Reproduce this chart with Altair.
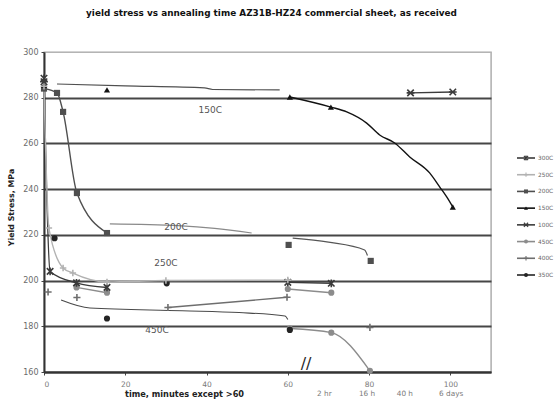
import altair as alt
import pandas as pd

# Series, in legend order, with their grey-scale styling
SERIES = ["300C", "250C", "200C", "150C", "100C", "450C", "400C", "350C"]
COLORS = ["#3a3a3a", "#b2b2b2", "#4f4f4f", "#121212", "#3c3c3c", "#8c8c8c", "#6e6e6e", "#242424"]
SHAPES = [
    "M-1,-1L1,1M-1,1L1,-1M0,-1.2L0,1.2",          # 300C asterisk
    "M-1,0L1,0M0,-1L0,1",                          # 250C plus
    "square",                                      # 200C
    "triangle-up",                                 # 150C
    "M-1,-1L1,1M-1,1L1,-1M-1.2,0L1.2,0",           # 100C
    "circle",                                      # 450C
    "M-1.1,0L1.1,0M0,-1.1L0,1.1",                  # 400C plus
    "circle",                                      # 350C
]
FILLED = ["200C", "150C", "450C", "350C"]

# Measured points: time (minutes, >60 on the compressed scale), yield stress (MPa),
# and the run each point belongs to (points of one run are joined by a line)
T_300 = [0, 1.5, 8, 15.5, 60, 70.7]
V_300 = [288.5, 204, 199, 197, 199.2, 198.8]
G_300 = [0, 0, 0, 0, 1, 1]

T_250 = [0, 1.2, 4.7, 7.1, 15.5, 30, 60]
V_250 = [285, 223, 205.5, 203.3, 199.4, 200, 200.2]
G_250 = [0, 0, 0, 0, 0, 0, 0]

T_200 = [0, 3.2, 4.7, 8.1, 15.5, 60.2, 80.4]
V_200 = [284, 282.1, 273.8, 238.3, 220.8, 215.6, 208.6]
G_200 = [0, 0, 0, 0, 0, 1, 2]

T_150 = [0, 15.5, 60.5, 70.6, 100.6]
V_150 = [285.5, 283.4, 280.3, 275.9, 232.2]
G_150 = [0, 1, 2, 2, 2]
# unmarked points along the long 150C run
T_150_RUN = [74.5, 79.4, 82.6, 86.3, 90, 94.9, 97.4, 99.1]
V_150_RUN = [273.8, 268.9, 263.7, 260.2, 254.1, 247.1, 240.9, 236.6]

T_100 = [0, 90.2, 100.6]
V_100 = [287, 282.1, 282.5]
G_100 = [0, 1, 1]

T_450 = [8, 15.5, 60, 70.7, 60.5, 70.7, 80.2]
V_450 = [197, 194.7, 196.3, 194.7, 179, 177.2, 160.5]
G_450 = [0, 0, 1, 1, 2, 2, 2]

T_400 = [1, 8.1, 30.5, 59.8, 80.2]
V_400 = [195, 192.6, 188.2, 192.7, 179.5]
G_400 = [0, 1, 2, 2, 3]

T_350 = [2.6, 15.5, 30.2, 60.5]
V_350 = [218.5, 183.4, 198.8, 178.4]
G_350 = [0, 1, 2, 3]

# Hand-drawn trend strokes (no markers)
TREND_150_T = [3.2, 20, 39.5, 41.5, 58]
TREND_150_V = [286, 285.2, 284.3, 283.6, 283.4]
TREND_200_T = [16.2, 33, 42, 51.1]
TREND_200_V = [224.8, 224, 222.8, 220.8]
TREND_200_LATE_T = [61.2, 70, 78.9, 79.6]
TREND_200_LATE_V = [218.6, 216.8, 213.4, 211]
TREND_450_T = [4.2, 11.3, 34, 48, 59.3, 60]
TREND_450_V = [191.5, 188, 186.8, 186, 184.5, 183]

# In-plot series labels
LABEL_TEXT = ["150C", "200C", "250C", "450C"]
LABEL_T = [40.9, 32.5, 30, 27.8]
LABEL_V = [274.6, 223.4, 207.7, 178.4]

# Long-time labels under the compressed part of the time axis
TIME_TEXT = ["2 hr", "16 h", "40 h", "6 days"]
TIME_T = [69, 79.5, 88.8, 100.2]

# Axis-break mark
BREAK_T = [64.5]
BREAK_V = [163.6]

X_TICKS = [0, 20, 40, 60, 80, 100]
Y_TICKS = [160, 180, 200, 220, 240, 260, 280, 300]


def frame(name, t, v, g):
    return pd.DataFrame({"series": name, "t": t, "v": v, "seg": g})


points = pd.concat([
    frame("300C", T_300, V_300, G_300),
    frame("250C", T_250, V_250, G_250),
    frame("200C", T_200, V_200, G_200),
    frame("150C", T_150, V_150, G_150),
    frame("100C", T_100, V_100, G_100),
    frame("450C", T_450, V_450, G_450),
    frame("400C", T_400, V_400, G_400),
    frame("350C", T_350, V_350, G_350),
], ignore_index=True)

paths = pd.concat([points, frame("150C", T_150_RUN, V_150_RUN, [2] * len(T_150_RUN))],
                  ignore_index=True)
paths["key"] = paths["series"] + "-" + paths["seg"].astype(str)


def trend(name, t, v, colour, width):
    return pd.DataFrame({"name": name, "t": t, "v": v, "c": colour, "w": width})


trends = pd.concat([
    trend("150", TREND_150_T, TREND_150_V, "#505050", 1.2),
    trend("200", TREND_200_T, TREND_200_V, "#8a8a8a", 1.2),
    trend("200late", TREND_200_LATE_T, TREND_200_LATE_V, "#555555", 1.2),
    trend("450", TREND_450_T, TREND_450_V, "#4a4a4a", 1.1),
], ignore_index=True)

labels = pd.DataFrame({"text": LABEL_TEXT, "t": LABEL_T, "v": LABEL_V})
times = pd.DataFrame({"text": TIME_TEXT, "t": TIME_T})
breaks = pd.DataFrame({"t": BREAK_T, "v": BREAK_V})
legend_rows = pd.DataFrame({"series": SERIES})

x_scale = alt.Scale(domain=[0, 110], nice=False, zero=False)
y_scale = alt.Scale(domain=[160, 300], nice=False, zero=False)
color_scale = alt.Scale(domain=SERIES, range=COLORS)
shape_scale = alt.Scale(domain=SERIES, range=SHAPES)

x_axis = alt.Axis(
    values=X_TICKS, grid=False, title="time, minutes except >60",
    labelFont="DejaVu Sans", labelFontSize=7.5, labelColor="#7a7a7a", labelPadding=5,
    tickColor="#444", tickSize=3, domainColor="#333", domainWidth=2,
    titleFont="DejaVu Sans", titleFontSize=8.2, titleFontWeight="bold", titleColor="#222",
    titleX=140, titleY=22, titleAlign="center", titleBaseline="middle",
)
y_axis = alt.Axis(
    values=Y_TICKS, grid=True, title="Yield Stress, MPa",
    gridColor={"condition": {"test": "datum.value === 300", "value": "#b4b4b4"}, "value": "#464646"},
    gridWidth={"condition": {"test": "datum.value === 300", "value": 1.2}, "value": 1.9},
    labelFont="DejaVu Sans", labelFontSize=8, labelColor="#6a6a6a", labelPadding=3,
    tickColor="#444", tickSize=3, domainColor="#333", domainWidth=2,
    titleFont="DejaVu Sans", titleFontSize=7.9, titleFontWeight="bold", titleColor="#222",
    titleX=-33, titleY=155, titleAngle=270, titleAlign="center", titleBaseline="middle",
)

X = alt.X("t:Q", scale=x_scale, axis=x_axis)
Y = alt.Y("v:Q", scale=y_scale, axis=y_axis)
COLOR = alt.Color("series:N", scale=color_scale, legend=None)
SHAPE = alt.Shape("series:N", scale=shape_scale, legend=None)

trend_layer = alt.Chart(trends).mark_line(interpolate="monotone").encode(
    x=X, y=Y, detail="name:N", order="t:Q",
    stroke=alt.Stroke("c:N", scale=None), strokeWidth=alt.StrokeWidth("w:Q", scale=None),
)

line_layer = alt.Chart(paths).mark_line(interpolate="monotone", strokeWidth=1.4).encode(
    x=X, y=Y, color=COLOR, detail="key:N", order="t:Q",
)

filled_pts = alt.Chart(points).transform_filter(
    alt.FieldOneOfPredicate(field="series", oneOf=FILLED)
).mark_point(filled=True, size=38, opacity=1).encode(x=X, y=Y, color=COLOR, shape=SHAPE)

stroked_pts = alt.Chart(points).transform_filter(
    ~alt.FieldOneOfPredicate(field="series", oneOf=FILLED)
).mark_point(filled=False, size=42, strokeWidth=1.6, opacity=1).encode(
    x=X, y=Y, color=COLOR, shape=SHAPE)

label_layer = alt.Chart(labels).mark_text(
    font="DejaVu Sans", fontSize=9, color="#555", baseline="middle"
).encode(x=X, y=Y, text="text:N")

time_layer = alt.Chart(times).mark_text(
    font="DejaVu Sans", fontSize=7.3, color="#7a7a7a", baseline="middle"
).encode(x=X, y=alt.value(342), text="text:N")

break_layer = alt.Chart(breaks).mark_text(
    font="DejaVu Sans", fontSize=16, color="#2a2a2a", baseline="middle"
).encode(x=X, y=Y, text=alt.value("//"))

main = alt.layer(trend_layer, line_layer, filled_pts, stroked_pts,
                 label_layer, time_layer, break_layer)

# Legend drawn beside the plot: a short stroke with the series marker and its name
LY = alt.Y("series:N", sort=SERIES,
           scale=alt.Scale(type="point", domain=SERIES, range=[106, 223], padding=0),
           axis=None)
leg_rule = alt.Chart(legend_rows).mark_rule(strokeWidth=1.6).encode(
    x=alt.value(473), x2=alt.value(491), y=LY, color=COLOR)
leg_filled = alt.Chart(legend_rows).transform_filter(
    alt.FieldOneOfPredicate(field="series", oneOf=FILLED)
).mark_point(filled=True, size=16, opacity=1).encode(
    x=alt.value(482), y=LY, color=COLOR, shape=SHAPE)
leg_stroked = alt.Chart(legend_rows).transform_filter(
    ~alt.FieldOneOfPredicate(field="series", oneOf=FILLED)
).mark_point(filled=False, size=18, strokeWidth=1.1, opacity=1).encode(
    x=alt.value(482), y=LY, color=COLOR, shape=SHAPE)
leg_text = alt.Chart(legend_rows).mark_text(
    align="left", baseline="middle", font="DejaVu Sans", fontSize=5.8, color="#666"
).encode(x=alt.value(494), y=LY, text="series:N")
legend = alt.layer(leg_rule, leg_filled, leg_stroked, leg_text)

chart = alt.layer(main, legend).resolve_scale(y="independent").properties(
    width=447, height=320,
    autosize="none",
    padding={"left": 44, "top": 52, "right": 67, "bottom": 28},
    title=alt.TitleParams(
        text="yield stress vs annealing time AZ31B-HZ24  commercial sheet, as received",
        font="DejaVu Sans", fontSize=8.9, fontWeight="bold", color="#111",
        anchor="middle", offset=30, dx=4,
    ),
).configure_view(stroke="#a8a8a8", strokeWidth=1.4)

chart.save("out.html", embed_options={"renderer": "svg", "actions": False})
